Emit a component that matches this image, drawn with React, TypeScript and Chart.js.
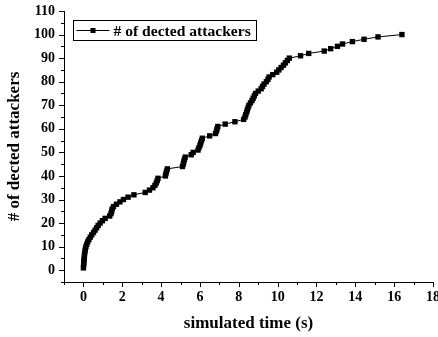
import React, { useEffect, useRef } from "react";
import { Chart, registerables } from "chart.js";

Chart.register(...registerables);

// number of detected attackers (cumulative count)
const attackerCounts = [
  1, 2, 3, 4, 5, 6, 7, 8, 9, 10,
  11, 12, 13, 14, 15, 16, 17, 18, 19, 20,
  21, 22, 23, 24, 25, 26, 27, 28, 29, 30,
  31, 32, 33, 34, 35, 36, 37, 38, 39, 40,
  41, 42, 43, 44, 45, 46, 47, 48, 49, 50,
  51, 52, 53, 54, 55, 56, 57, 58, 59, 60,
  61, 62, 63, 64, 65, 66, 67, 68, 69, 70,
  71, 72, 73, 74, 75, 76, 77, 78, 79, 80,
  81, 82, 83, 84, 85, 86, 87, 88, 89, 90,
  91, 92, 93, 94, 95, 96, 97, 98, 99, 100,
];

// simulated time (s) at which each attacker was detected
const detectionTimes = [
  0.0, 0.01, 0.02, 0.03, 0.04, 0.05, 0.06, 0.08, 0.1, 0.13,
  0.17, 0.22, 0.28, 0.35, 0.43, 0.52, 0.6, 0.68, 0.76, 0.86,
  0.98, 1.12, 1.35, 1.42, 1.45, 1.48, 1.55, 1.7, 1.88, 2.06,
  2.3, 2.6, 3.18, 3.4, 3.58, 3.68, 3.75, 3.8, 3.84, 4.22,
  4.25, 4.28, 4.32, 5.1, 5.14, 5.17, 5.2, 5.24, 5.55, 5.65,
  5.9, 5.95, 6.0, 6.04, 6.08, 6.12, 6.5, 6.8, 6.85, 6.88,
  6.92, 7.3, 7.8, 8.25, 8.32, 8.36, 8.4, 8.44, 8.48, 8.52,
  8.6, 8.68, 8.74, 8.8, 8.86, 9.0, 9.15, 9.22, 9.3, 9.42,
  9.5, 9.56, 9.75, 9.95, 10.06, 10.18, 10.3, 10.4, 10.5, 10.6,
  11.18, 11.6, 12.4, 12.73, 13.08, 13.34, 13.85, 14.45, 15.17, 16.4,
];

const xMajorTicks = [0, 2, 4, 6, 8, 10, 12, 14, 16, 18];
const yMajorTicks = [0, 10, 20, 30, 40, 50, 60, 70, 80, 90, 100, 110];

const seriesLabel = "# of dected attackers";
const xTitle = "simulated time (s)";
const yTitle = "# of dected attackers";

const FONT = '"Liberation Serif", "Times New Roman", serif';

const tickMarksPlugin = {
  id: "tickMarks",
  afterDraw(chart: any) {
    const { ctx } = chart;
    const xs = chart.scales.x;
    const ys = chart.scales.y;
    ctx.save();
    ctx.strokeStyle = "#000";
    ctx.lineWidth = 1;
    ctx.beginPath();
    for (let v = xs.min; v <= xs.max + 1e-9; v += 1) {
      const px = Math.round(xs.getPixelForValue(v)) + 0.5;
      const len = xMajorTicks.includes(v) ? 5 : 3;
      ctx.moveTo(px, xs.top);
      ctx.lineTo(px, xs.top + len);
    }
    for (let v = ys.min; v <= ys.max + 1e-9; v += 5) {
      const py = Math.round(ys.getPixelForValue(v)) + 0.5;
      const len = yMajorTicks.includes(v) ? 5 : 3;
      ctx.moveTo(ys.right, py);
      ctx.lineTo(ys.right - len, py);
    }
    ctx.stroke();
    ctx.restore();
  },
};

const boxLegendPlugin = {
  id: "boxLegend",
  afterDraw(chart: any) {
    const { ctx } = chart;
    const ds = chart.data.datasets[0];
    const x0 = 73.5;
    const y0 = 20.5;
    const w = 183;
    const h = 20;
    const cy = y0 + h / 2;
    ctx.save();
    ctx.fillStyle = "#fff";
    ctx.fillRect(x0, y0, w, h);
    ctx.strokeStyle = "#000";
    ctx.lineWidth = 1;
    ctx.strokeRect(x0, y0, w, h);
    ctx.beginPath();
    ctx.moveTo(x0 + 3, cy);
    ctx.lineTo(x0 + 36, cy);
    ctx.stroke();
    ctx.fillStyle = "#000";
    ctx.fillRect(x0 + 17, cy - 2.5, 5, 5);
    ctx.font = "bold 15.6px " + FONT;
    ctx.textBaseline = "middle";
    ctx.textAlign = "left";
    ctx.fillText(ds.label, x0 + 40, cy + 1);
    ctx.restore();
  },
};

export default function App() {
  const canvasRef = useRef<HTMLCanvasElement | null>(null);

  useEffect(() => {
    if (!canvasRef.current) return;
    const points = detectionTimes.map((t, i) => ({ x: t, y: attackerCounts[i] }));
    const chart = new Chart(canvasRef.current, {
      type: "line",
      data: {
        datasets: [
          {
            label: seriesLabel,
            data: points,
            borderColor: "#000",
            borderWidth: 1,
            backgroundColor: "#000",
            pointStyle: "rect",
            pointRadius: 3.8,
            pointBorderWidth: 0,
            pointBackgroundColor: "#000",
            pointBorderColor: "#000",
            tension: 0,
            fill: false,
          },
        ],
      },
      options: {
        responsive: false,
        animation: false,
        devicePixelRatio: 1,
        layout: { padding: { top: 11, right: 5, left: 0, bottom: 0 } },
        plugins: {
          legend: { display: false },
          tooltip: { enabled: false },
        },
        scales: {
          x: {
            type: "linear",
            min: -1,
            max: 18,
            afterFit(scale: any) {
              scale.height = 55;
              scale.paddingLeft = 0;
              scale.paddingRight = 0;
            },
            ticks: {
              stepSize: 1,
              autoSkip: false,
              maxRotation: 0,
              padding: 7,
              color: "#000",
              font: { family: FONT, size: 14, weight: "bold" },
              callback: (v: any) => (xMajorTicks.includes(Number(v)) ? String(v) : ""),
            },
            grid: { display: false, drawTicks: false },
            border: { display: true, color: "#000", width: 1 },
            title: {
              display: true,
              text: xTitle,
              color: "#000",
              font: { family: FONT, size: 17, weight: "bold" },
              padding: { top: 0, bottom: 2.8 },
            },
          },
          y: {
            type: "linear",
            min: -5,
            max: 110,
            afterFit(scale: any) {
              scale.width = 64;
              scale.paddingTop = 0;
              scale.paddingBottom = 0;
            },
            ticks: {
              stepSize: 5,
              autoSkip: false,
              padding: 9,
              color: "#000",
              font: { family: FONT, size: 14, weight: "bold" },
              callback: (v: any) => (yMajorTicks.includes(Number(v)) ? String(v) : ""),
            },
            grid: { display: false, drawTicks: false },
            border: { display: true, color: "#000", width: 1 },
            title: {
              display: true,
              text: yTitle,
              color: "#000",
              font: { family: FONT, size: 17, weight: "bold" },
              padding: { top: 4.8, bottom: 0 },
            },
          },
        },
      },
      plugins: [tickMarksPlugin, boxLegendPlugin],
    });
    return () => chart.destroy();
  }, []);

  return (
    <div style={{ position: "absolute", left: 0, top: 0, width: 438, height: 337, background: "#fff" }}>
      <canvas ref={canvasRef} width={438} height={337} />
    </div>
  );
}
